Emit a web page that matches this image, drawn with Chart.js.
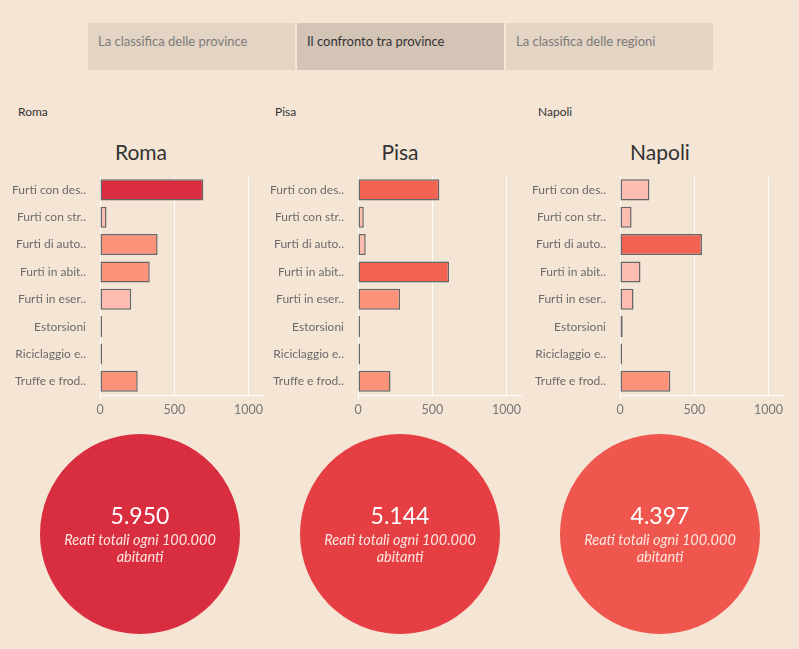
<!DOCTYPE html>
<html>
<head>
<meta charset="utf-8">
<script src="https://cdn.jsdelivr.net/npm/chart.js@4/dist/chart.umd.min.js"></script>
<style>
  body { margin: 0; width: 799px; height: 649px; overflow: hidden; background: #f5e5d5; font-family: Lato, sans-serif; position: relative; }
  .tab { position: absolute; top: 23px; height: 47px; background: #e4d4c4; color: #7b7b7b; font-size: 13px; box-sizing: border-box; padding: 10px 10px; }
  .tab.active { background: #d4c4b6; color: #333; }
  .small { position: absolute; top: 104px; font-size: 12px; color: #333; }
  .title { position: absolute; top: 139px; width: 160px; text-align: center; font-size: 21px; color: #333; }
  canvas { position: absolute; }
</style>
</head>
<body>
<div class="tab" style="left:88px;width:207px">La classifica delle province</div>
<div class="tab active" style="left:297px;width:207px">Il confronto tra province</div>
<div class="tab" style="left:506px;width:207px">La classifica delle regioni</div>

<div class="small" style="left:18px">Roma</div>
<div class="small" style="left:275px">Pisa</div>
<div class="small" style="left:538px">Napoli</div>

<div class="title" style="left:61px">Roma</div>
<div class="title" style="left:320px">Pisa</div>
<div class="title" style="left:580px">Napoli</div>

<canvas id="barRoma" width="266" height="262" style="left:0px;top:163px"></canvas>
<canvas id="barPisa" width="266" height="262" style="left:258px;top:163px"></canvas>
<canvas id="barNapoli" width="266" height="262" style="left:520px;top:163px"></canvas>

<canvas id="pieRoma" width="202" height="202" style="left:39px;top:433px"></canvas>
<canvas id="piePisa" width="202" height="202" style="left:299px;top:433px"></canvas>
<canvas id="pieNapoli" width="202" height="202" style="left:559px;top:433px"></canvas>

<script>
const categories = ['Furti con des..', 'Furti con str..', 'Furti di auto..', 'Furti in abit..',
  'Furti in eser..', 'Estorsioni', 'Riciclaggio e..', 'Truffe e frod..']
const provinces = ['Roma', 'Pisa', 'Napoli']
const romaValues = [696, 44, 388, 335, 210, 11, 4, 254]
const pisaValues = [548, 39, 52, 613, 284, 10, 4, 219]
const napoliValues = [198, 78, 552, 138, 91, 18, 4, 339]
const totals = [5950, 5144, 4397]
const xTicks = [0, 500, 1000]
const circleColors = ['#d92d40', '#e53e43', '#ef564d']

Chart.defaults.font.family = 'Lato, sans-serif'

const colorFor = v => {
  if (v > 650) return '#d92d3f'
  if (v > 450) return '#f26352'
  if (v >= 215) return '#fc927a'
  return '#fdbdb0'
}

const makeBars = (id, values) => {
  new Chart(document.getElementById(id), {
    type: 'bar',
    data: {
      labels: categories,
      datasets: [{
        data: values,
        backgroundColor: values.map(colorFor),
        borderColor: '#666',
        borderWidth: 1.5,
        borderSkipped: false,
        minBarLength: 2,
        categoryPercentage: 1,
        barPercentage: 0.77,
      }],
    },
    options: {
      indexAxis: 'y',
      responsive: false,
      animation: false,
      devicePixelRatio: 1,
      layout: {padding: 0},
      plugins: {legend: {display: false}, tooltip: {enabled: false}},
      scales: {
        x: {
          min: 0,
          max: 1100,
          afterBuildTicks: s => { s.ticks = xTicks.map(v => ({value: v})) },
          afterFit: s => { s.height = 30 },
          grid: {
            color: 'rgba(255,255,255,0.9)',
            tickLength: 4,
            tickColor: c => (c.tick && c.tick.value === 0 ? '#fff' : 'transparent'),
          },
          border: {color: '#fff'},
          ticks: {color: '#777', font: {size: 12.5}, padding: 3, callback: v => String(v)},
        },
        y: {
          afterFit: s => { s.width = 100 },
          grid: {display: false},
          border: {display: false},
          ticks: {color: '#6b6b6b', font: {size: 12}, padding: 6},
        },
      },
    },
  })
}

makeBars('barRoma', romaValues)
makeBars('barPisa', pisaValues)
makeBars('barNapoli', napoliValues)

const fmt = n => String(n).replace(/\B(?=(\d{3})+(?!\d))/g, '.')

const centerText = {
  id: 'centerText',
  afterDraw(chart) {
    const {ctx, chartArea} = chart
    const cx = (chartArea.left + chartArea.right) / 2
    const cy = (chartArea.top + chartArea.bottom) / 2
    ctx.save()
    ctx.textAlign = 'center'
    ctx.textBaseline = 'middle'
    ctx.fillStyle = '#fff'
    ctx.font = '23px Lato, sans-serif'
    ctx.fillText(fmt(chart.data.datasets[0].data[0]), cx, cy - 17)
    ctx.fillStyle = '#fde6e0'
    ctx.font = 'italic 14.5px Lato, sans-serif'
    ctx.fillText('Reati totali ogni 100.000', cx, cy + 6)
    ctx.fillText('abitanti', cx, cy + 23)
    ctx.restore()
  },
}

provinces.forEach((p, i) => {
  new Chart(document.getElementById('pie' + p), {
    type: 'pie',
    data: {
      labels: [p],
      datasets: [{data: [totals[i]], backgroundColor: circleColors[i], borderWidth: 0}],
    },
    options: {
      responsive: false,
      animation: false,
      devicePixelRatio: 1,
      layout: {padding: 1},
      plugins: {legend: {display: false}, tooltip: {enabled: false}},
    },
    plugins: [centerText],
  })
})
</script>
</body>
</html>
